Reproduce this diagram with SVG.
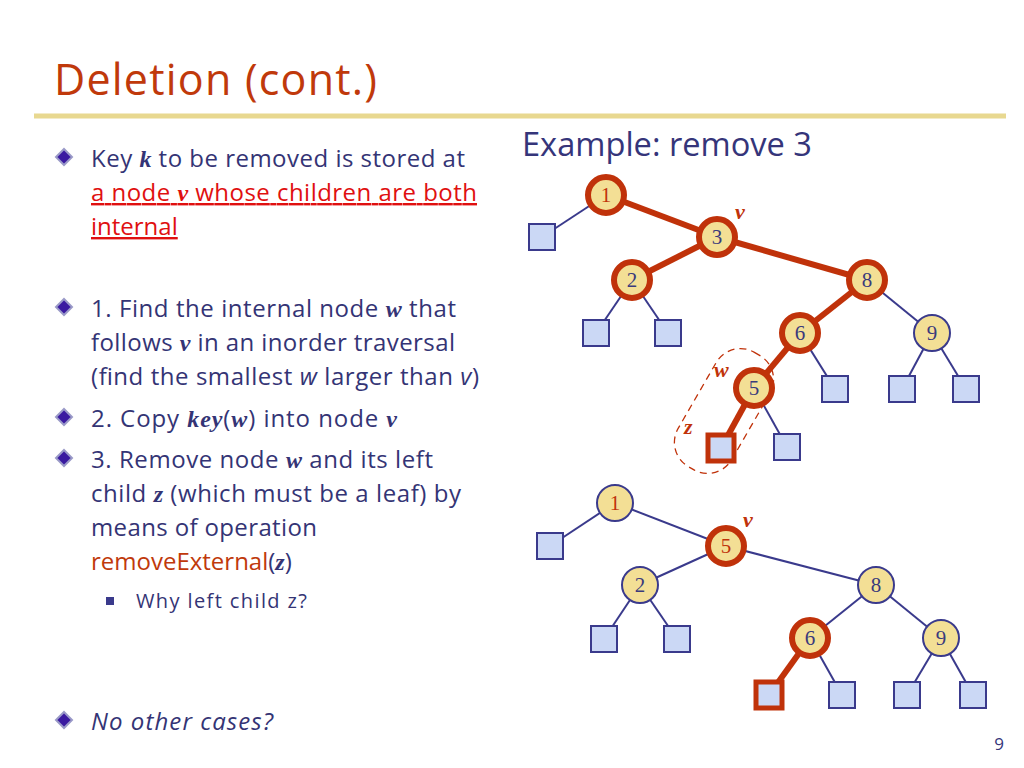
<svg xmlns="http://www.w3.org/2000/svg" width="1024" height="768" viewBox="0 0 1024 768">
<style>
.t{font-family:"Open Sans","Liberation Sans",sans-serif;font-size:24px;fill:#343475}
.m{font-family:"Liberation Serif",serif;font-style:italic;font-weight:bold}
.n{fill:#f3df95;stroke:#3a3a8c;stroke-width:2}
.nr{fill:#f3df95;stroke:#c0320a;stroke-width:6}
.nt{font-family:"Liberation Serif",serif;font-size:21px;fill:#3a3a7c;text-anchor:middle}
.lf{fill:#cbd8f5;stroke:#3a3a8c;stroke-width:2}
.lr{fill:#cbd8f5;stroke:#c0320a;stroke-width:5}
.e{stroke:#3a3a8c;stroke-width:2;fill:none}
.er{stroke:#c0320a;stroke-width:6;fill:none}
.lb{font-family:"Liberation Serif",serif;font-style:italic;font-weight:bold;font-size:22px;fill:#c0320a}
</style>
<defs>
<g id="bul"><path d="M0,-8 L8,0 L0,8 L-8,0Z" fill="#3a1aa0" stroke="#9a9ac8" stroke-width="2"/></g>
</defs>
<rect width="1024" height="768" fill="#fff"/>
<text x="54" y="95" font-family="Open Sans,Liberation Sans,sans-serif" font-size="43" fill="#c0390b" textLength="323">Deletion (cont.)</text>
<line x1="34" y1="116" x2="1006" y2="116" stroke="#e8d890" stroke-width="5"/>
<text x="522" y="156" font-family="Open Sans,Liberation Sans,sans-serif" font-size="32" fill="#35357a" textLength="290" lengthAdjust="spacingAndGlyphs">Example: remove 3</text>

<use href="#bul" x="64" y="157"/>
<text class="t" x="91" y="167" textLength="374">Key <tspan class="m">k</tspan> to be removed is stored at</text>
<text class="t" x="91" y="201" style="fill:#e01010" text-decoration="underline" textLength="386">a node <tspan class="m">v</tspan> whose children are both</text>
<text class="t" x="91" y="235" style="fill:#e01010" text-decoration="underline">internal</text>
<use href="#bul" x="64" y="307"/>
<text class="t" x="91" y="317" textLength="365">1. Find the internal node <tspan class="m">w</tspan> that</text>
<text class="t" x="91" y="351" textLength="364">follows <tspan class="m">v</tspan> in an inorder traversal</text>
<text class="t" x="91" y="385" textLength="388">(find the smallest <tspan font-style="italic">w</tspan> larger than <tspan font-style="italic">v</tspan>)</text>
<use href="#bul" x="64" y="417"/>
<text class="t" x="91" y="427" textLength="306">2. Copy <tspan class="m">key</tspan>(<tspan class="m">w</tspan>) into node <tspan class="m">v</tspan></text>
<use href="#bul" x="64" y="458"/>
<text class="t" x="91" y="468" textLength="342">3. Remove node <tspan class="m">w</tspan> and its left</text>
<text class="t" x="91" y="502" textLength="370">child <tspan class="m">z</tspan> (which must be a leaf) by</text>
<text class="t" x="91" y="536" textLength="226">means of operation</text>
<text class="t" x="91" y="570"><tspan style="fill:#c0390b">removeExternal</tspan>(<tspan class="m">z</tspan>)</text>
<rect x="106" y="597" width="8" height="8" fill="#3a3a8c"/>
<text class="t" x="136" y="608" style="font-size:20px" textLength="171">Why left child z?</text>
<use href="#bul" x="64" y="720"/>
<text class="t" x="91" y="730" font-style="italic" textLength="182">No other cases?</text>
<text x="1004" y="750" font-family="Open Sans,Liberation Sans,sans-serif" font-size="17" fill="#35357a" text-anchor="end">9</text>

<g id="connectors">
<line class="e" x1="606" y1="195" x2="542" y2="237"/>
<line class="e" x1="632" y1="280" x2="596" y2="333"/>
<line class="e" x1="632" y1="280" x2="668" y2="333"/>
<line class="e" x1="800" y1="333" x2="835" y2="389"/>
<line class="e" x1="867" y1="280" x2="932" y2="333"/>
<line class="e" x1="932" y1="333" x2="902" y2="389"/>
<line class="e" x1="932" y1="333" x2="966" y2="389"/>
<line class="e" x1="754" y1="388" x2="787" y2="447"/>
<line class="er" x1="606" y1="195" x2="717" y2="237"/>
<line class="er" x1="717" y1="237" x2="632" y2="280"/>
<line class="er" x1="717" y1="237" x2="867" y2="280"/>
<line class="er" x1="867" y1="280" x2="800" y2="333"/>
<line class="er" x1="800" y1="333" x2="754" y2="388"/>
<line class="er" x1="754" y1="388" x2="721" y2="448"/>

<line class="e" x1="615" y1="503" x2="550" y2="546"/>
<line class="e" x1="615" y1="503" x2="726" y2="546"/>
<line class="e" x1="726" y1="546" x2="640" y2="585"/>
<line class="e" x1="726" y1="546" x2="876" y2="585"/>
<line class="e" x1="640" y1="585" x2="604" y2="639"/>
<line class="e" x1="640" y1="585" x2="677" y2="639"/>
<line class="e" x1="876" y1="585" x2="810" y2="638"/>
<line class="e" x1="876" y1="585" x2="941" y2="638"/>
<line class="e" x1="810" y1="638" x2="842" y2="695"/>
<line class="e" x1="941" y1="638" x2="907" y2="695"/>
<line class="e" x1="941" y1="638" x2="973" y2="695"/>
<line class="er" x1="810" y1="638" x2="769" y2="695"/>
</g>

<rect x="693" y="345" width="62" height="132" rx="28" fill="none" stroke="#c0320a" stroke-width="1.3" stroke-dasharray="7,5" transform="rotate(30 724 411)"/>

<g id="t1">
<g id="a1"><circle class="nr" cx="606" cy="195" r="18"/><text class="nt" x="606" y="202" style="fill:#c0320a">1</text></g>
<g id="a3"><circle class="nr" cx="717" cy="237" r="18"/><text class="nt" x="717" y="244">3</text></g>
<g id="a2"><circle class="nr" cx="632" cy="280" r="18"/><text class="nt" x="632" y="287">2</text></g>
<g id="a8"><circle class="nr" cx="867" cy="280" r="18"/><text class="nt" x="867" y="287">8</text></g>
<g id="a6"><circle class="nr" cx="800" cy="333" r="18"/><text class="nt" x="800" y="340">6</text></g>
<g id="a9"><circle class="n" cx="932" cy="333" r="18"/><text class="nt" x="932" y="340">9</text></g>
<g id="a5"><circle class="nr" cx="754" cy="388" r="18"/><text class="nt" x="754" y="395">5</text></g>
<rect class="lf" x="529" y="224" width="26" height="26"/>
<rect class="lf" x="583" y="320" width="26" height="26"/>
<rect class="lf" x="655" y="320" width="26" height="26"/>
<rect class="lf" x="822" y="376" width="26" height="26"/>
<rect class="lf" x="889" y="376" width="26" height="26"/>
<rect class="lf" x="953" y="376" width="26" height="26"/>
<rect class="lr" x="708" y="435" width="26" height="26"/>
<rect class="lf" x="774" y="434" width="26" height="26"/>
<text class="lb" x="735" y="219">v</text>
<text class="lb" x="714" y="377">w</text>
<text class="lb" x="684" y="434">z</text>
</g>

<g id="t2">
<g id="b1"><circle class="n" cx="615" cy="503" r="18"/><text class="nt" x="615" y="510" style="fill:#c0320a">1</text></g>
<g id="b5"><circle class="nr" cx="726" cy="546" r="18"/><text class="nt" x="726" y="553" style="fill:#c0320a">5</text></g>
<g id="b2"><circle class="n" cx="640" cy="585" r="18"/><text class="nt" x="640" y="592">2</text></g>
<g id="b8"><circle class="n" cx="876" cy="585" r="18"/><text class="nt" x="876" y="592">8</text></g>
<g id="b6"><circle class="nr" cx="810" cy="638" r="18"/><text class="nt" x="810" y="645">6</text></g>
<g id="b9"><circle class="n" cx="941" cy="638" r="18"/><text class="nt" x="941" y="645">9</text></g>
<rect class="lf" x="537" y="533" width="26" height="26"/>
<rect class="lf" x="591" y="626" width="26" height="26"/>
<rect class="lf" x="664" y="626" width="26" height="26"/>
<rect class="lr" x="756" y="682" width="26" height="26"/>
<rect class="lf" x="829" y="682" width="26" height="26"/>
<rect class="lf" x="894" y="682" width="26" height="26"/>
<rect class="lf" x="960" y="682" width="26" height="26"/>
<text class="lb" x="743" y="527">v</text>
</g>
</svg>
